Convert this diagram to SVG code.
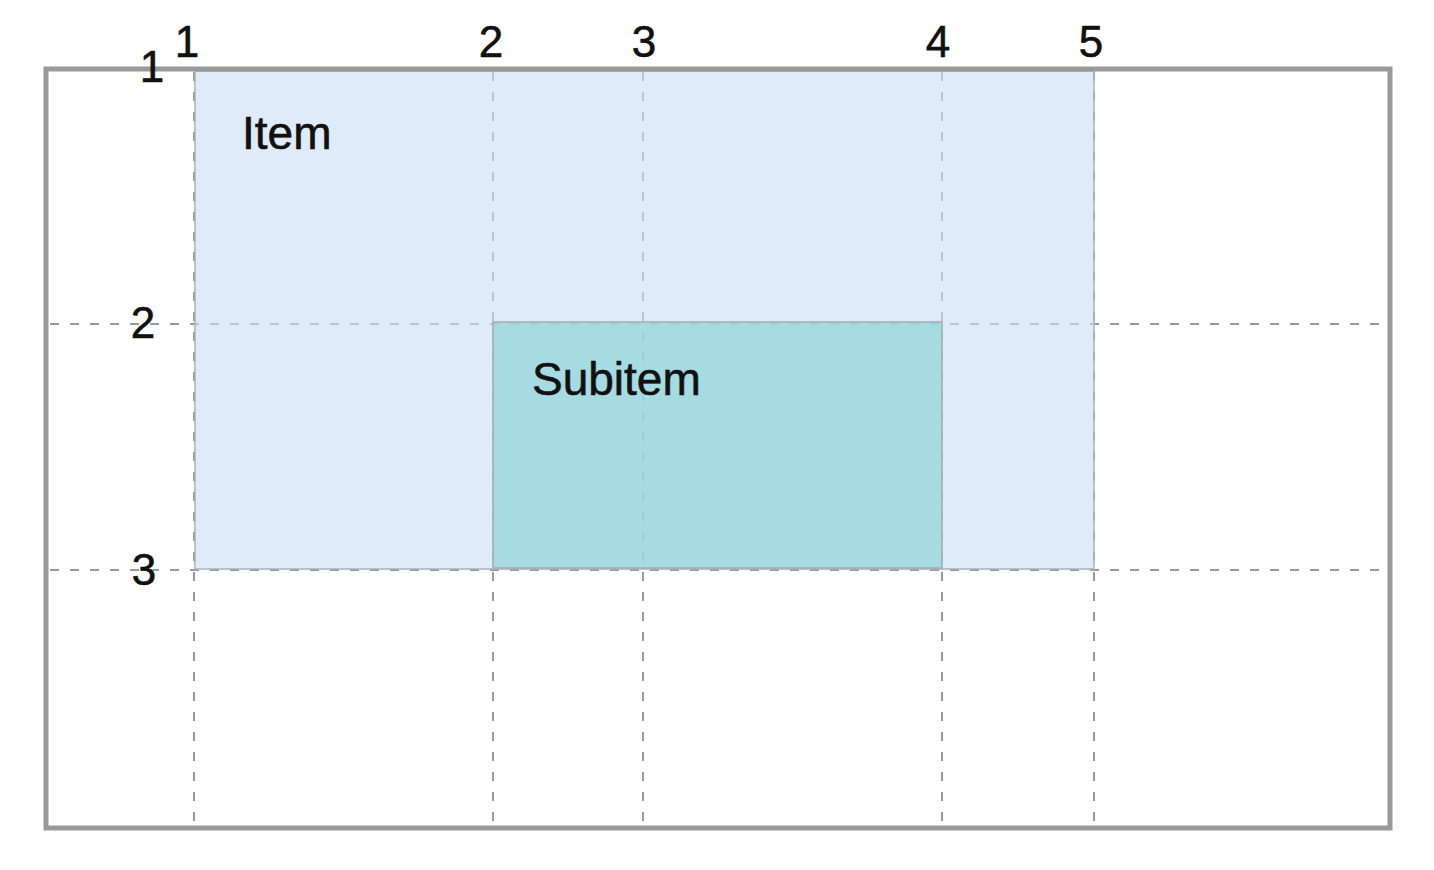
<svg xmlns="http://www.w3.org/2000/svg" width="1434" height="870" viewBox="0 0 1434 870">
<style>
.grid{stroke:#999;stroke-width:2;stroke-dasharray:9 11;fill:none}
.num{font-family:"Liberation Sans",Arial,sans-serif;font-size:44px;fill:#111;stroke:#111;stroke-width:0.6;text-anchor:middle}
.lbl{font-family:"Liberation Sans",Arial,sans-serif;font-size:46px;fill:#111;stroke:#111;stroke-width:0.6}
</style>
<rect x="0" y="0" width="1434" height="870" fill="#ffffff"/>
<g id="connectors">
<line class="grid" x1="194" y1="72" x2="194" y2="824"/>
<line class="grid" x1="493" y1="72" x2="493" y2="824"/>
<line class="grid" x1="643" y1="72" x2="643" y2="824"/>
<line class="grid" x1="942" y1="72" x2="942" y2="824"/>
<line class="grid" x1="1094" y1="72" x2="1094" y2="824"/>
<line class="grid" x1="50" y1="324" x2="1386" y2="324"/>
<line class="grid" x1="50" y1="570" x2="1386" y2="570"/>
</g>
<g id="item">
<rect x="195" y="71" width="899" height="498" fill="#cddff5" fill-opacity="0.62" stroke="#a9b1ba" stroke-width="1.5"/>
<text class="lbl" x="242" y="149">Item</text>
</g>
<g id="subitem">
<rect x="493" y="322" width="449" height="246" fill="#94d6d9" fill-opacity="0.75" stroke="#a3aab2" stroke-width="1.5"/>
<text class="lbl" x="532" y="395">Subitem</text>
</g>
<g id="frame">
<rect x="46" y="69" width="1344" height="759" fill="none" stroke="#999" stroke-width="5"/>
</g>
<g id="labels">
<text class="num" x="187" y="57">1</text>
<text class="num" x="491" y="57">2</text>
<text class="num" x="644" y="57">3</text>
<text class="num" x="938" y="57">4</text>
<text class="num" x="1091" y="57">5</text>
<text class="num" x="152" y="82">1</text>
<text class="num" x="143" y="338">2</text>
<text class="num" x="144" y="585">3</text>
</g>
</svg>
